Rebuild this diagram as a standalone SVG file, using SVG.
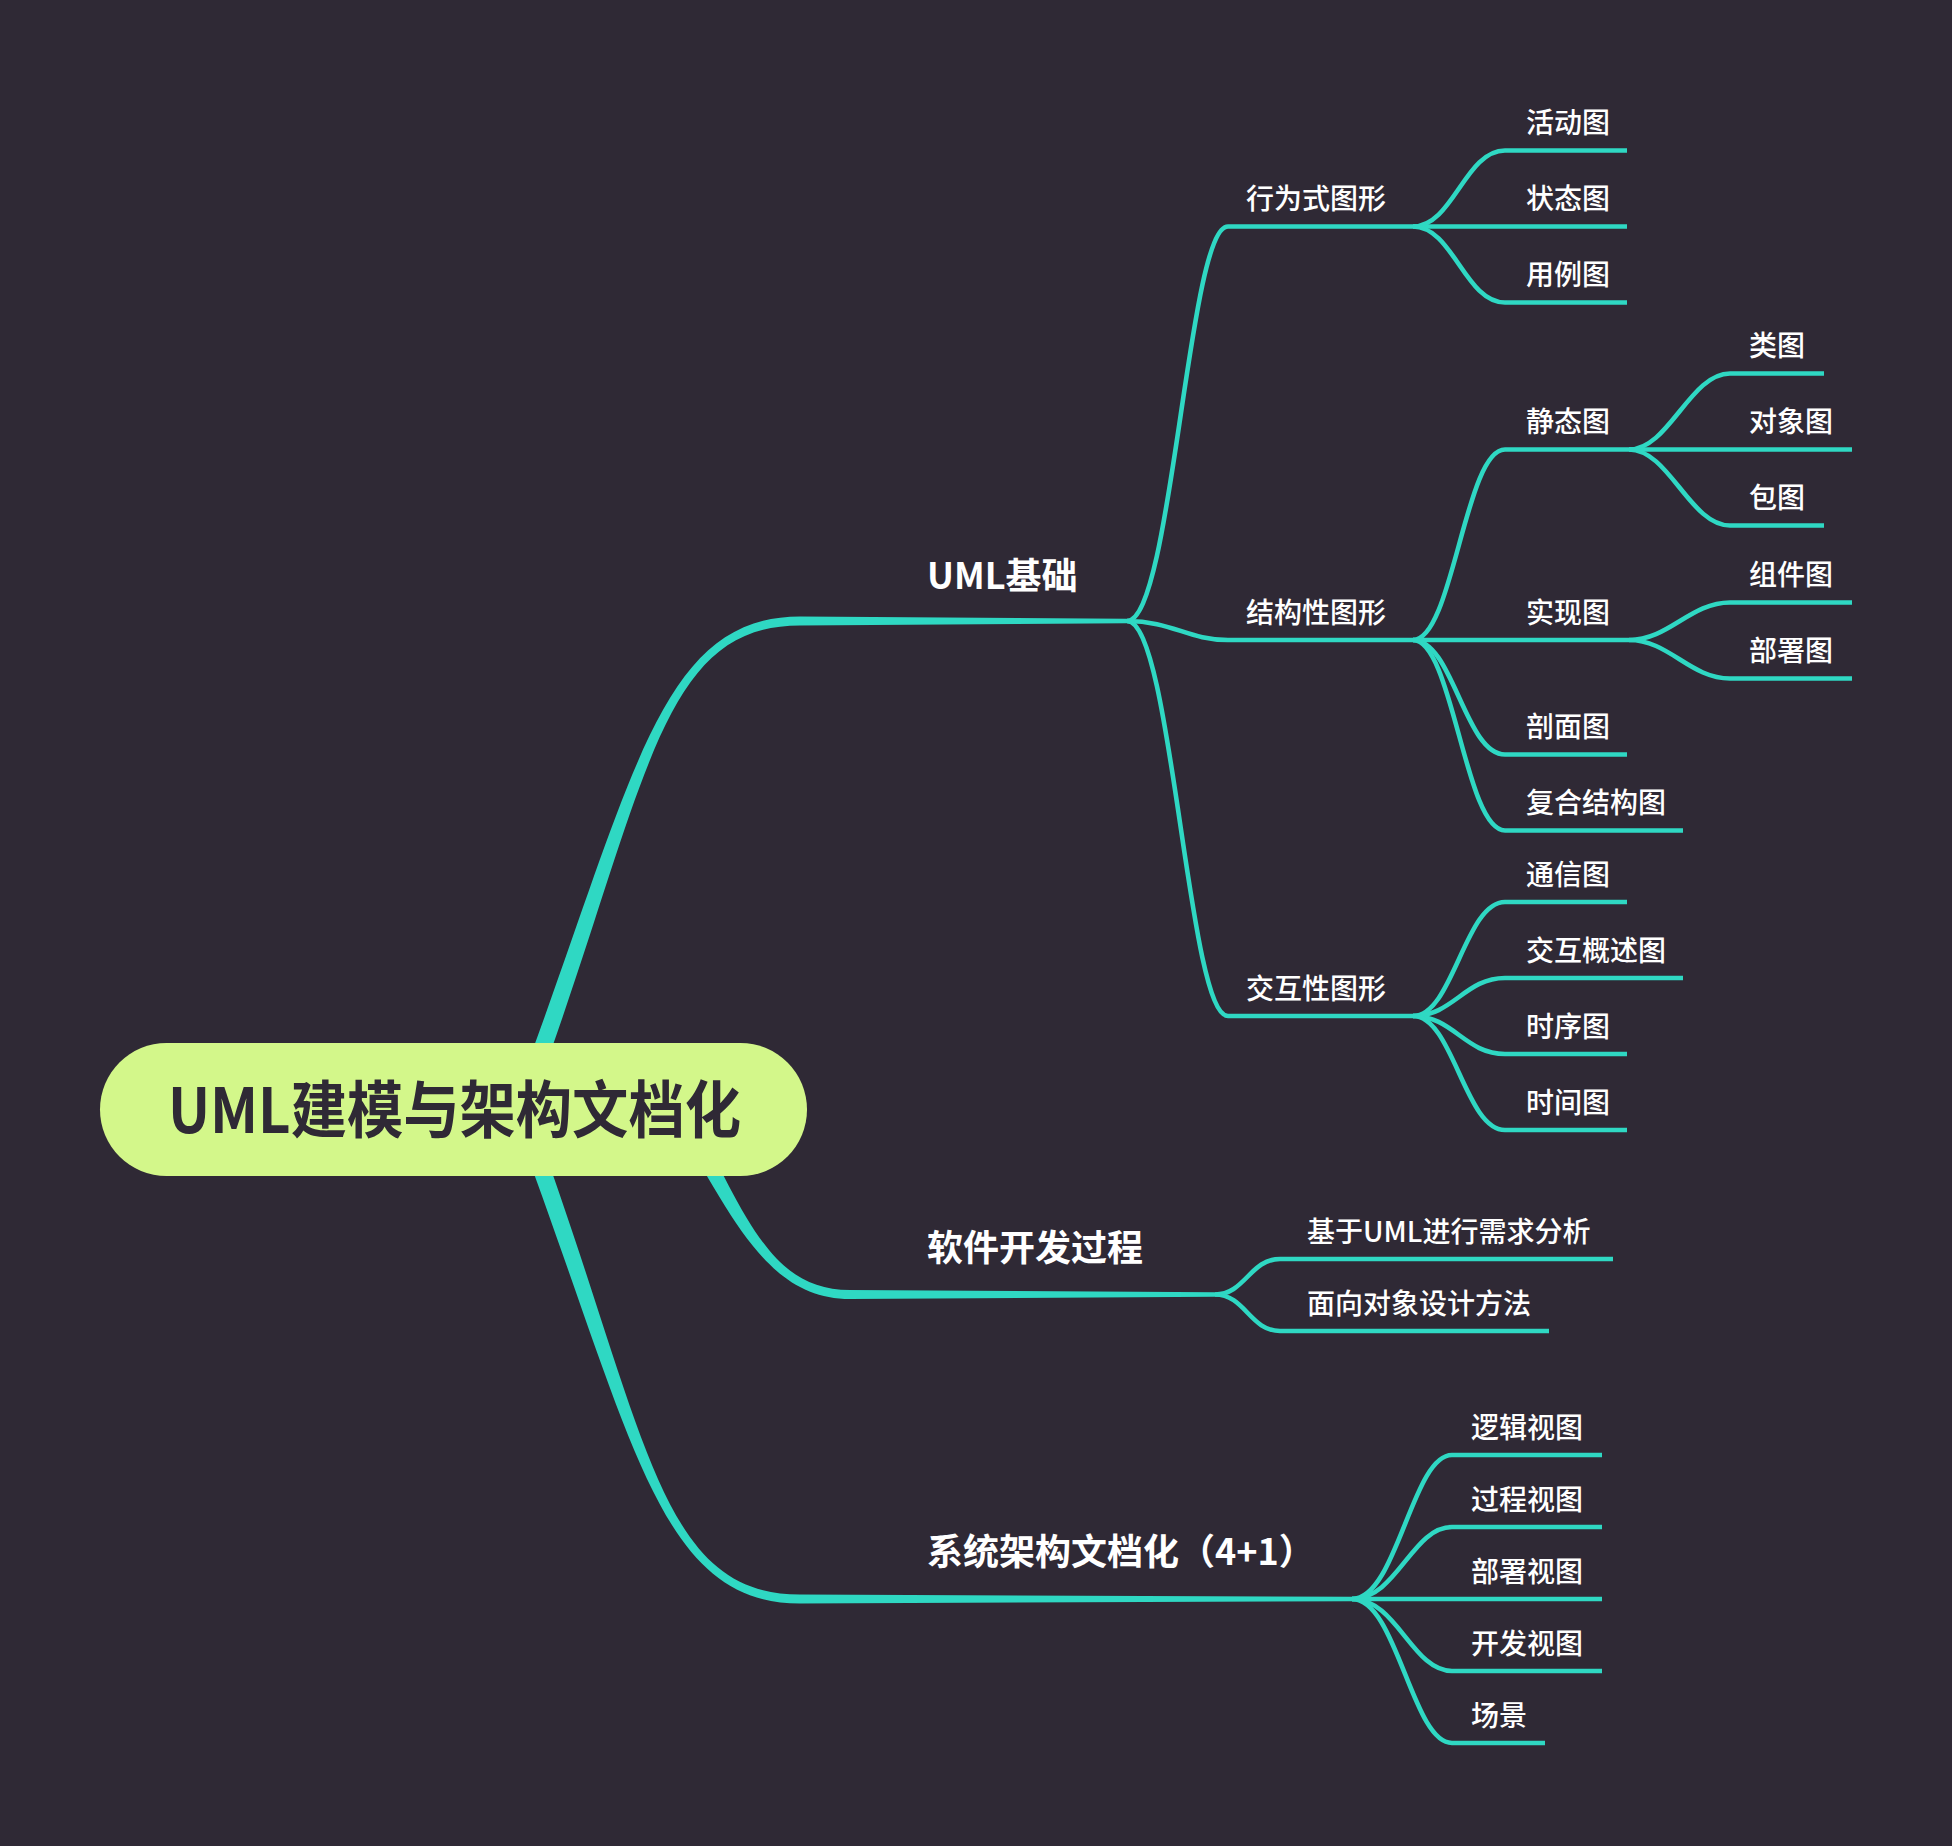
<svg xmlns="http://www.w3.org/2000/svg" width="1952" height="1846" viewBox="0 0 1952 1846">
<style>
.bg{fill:#2f2935}
.br{fill:#2fd8c3}
.c{fill:none;stroke:#2fd8c3;stroke-width:4.6;stroke-linecap:butt}
.t0{font-family:"Noto Sans CJK SC","Noto Sans",sans-serif;font-weight:700;font-size:62px;fill:#2f2935}
.t1{font-family:"Noto Sans CJK SC","Noto Sans",sans-serif;font-weight:700;font-size:36px;fill:#ffffff}
.t2{font-family:"Noto Sans CJK SC","Noto Sans",sans-serif;font-weight:500;font-size:28px;fill:#ffffff}
</style>
<rect class="bg" x="0" y="0" width="1952" height="1846"/>
<g id="connectors">
<path class="br" d="M511.6 1106.8 C632.5 787.2 655 616.5 800 616.5 L1127 618.75 L1127 623.25 L800 625.5 C655 625.5 647.5 792.8 528.4 1113.2 Z"/>
<path class="br" d="M687.9 1105.7 C746.1 1216.6 770 1290 850 1290 L1215 1292.25 L1215 1296.75 L850 1299 C770 1299 733.9 1223.4 672.1 1114.3 Z"/>
<path class="br" d="M511.6 1113.2 C632.5 1432.8 655 1603.5 800 1603.5 L1352 1601.25 L1352 1596.75 L800 1594.5 C655 1594.5 647.5 1427.2 528.4 1106.8 Z"/>
<path class="c" d="M1127 621 C1172 621 1188 226.5 1228 226.5 L1413 226.5"/>
<path class="c" d="M1127 621 C1172 621 1188 640 1228 640 L1413 640"/>
<path class="c" d="M1127 621 C1172 621 1188 1016 1228 1016 L1413 1016"/>
<path class="c" d="M1413 226.5 C1453 226.5 1465 150.5 1505 150.5 L1627 150.5"/>
<path class="c" d="M1413 226.5 L1627 226.5"/>
<path class="c" d="M1413 226.5 C1453 226.5 1465 302.5 1505 302.5 L1627 302.5"/>
<path class="c" d="M1413 640 C1453 640 1465 449.5 1505 449.5 L1629 449.5"/>
<path class="c" d="M1413 640 L1629 640"/>
<path class="c" d="M1413 640 C1453 640 1465 754.5 1505 754.5 L1627 754.5"/>
<path class="c" d="M1413 640 C1453 640 1465 830.5 1505 830.5 L1683 830.5"/>
<path class="c" d="M1413 1016 C1453 1016 1465 902 1505 902 L1627 902"/>
<path class="c" d="M1413 1016 C1453 1016 1465 978 1505 978 L1683 978"/>
<path class="c" d="M1413 1016 C1453 1016 1465 1054 1505 1054 L1627 1054"/>
<path class="c" d="M1413 1016 C1453 1016 1465 1130 1505 1130 L1627 1130"/>
<path class="c" d="M1629 449.5 C1669 449.5 1690 373.5 1730 373.5 L1824 373.5"/>
<path class="c" d="M1629 449.5 L1852 449.5"/>
<path class="c" d="M1629 449.5 C1669 449.5 1690 525.5 1730 525.5 L1824 525.5"/>
<path class="c" d="M1629 640 C1669 640 1690 602.5 1730 602.5 L1852 602.5"/>
<path class="c" d="M1629 640 C1669 640 1690 678.5 1730 678.5 L1852 678.5"/>
<path class="c" d="M1215 1294.5 C1245 1294.5 1250 1259 1280 1259 L1613 1259"/>
<path class="c" d="M1215 1294.5 C1245 1294.5 1250 1331 1280 1331 L1549 1331"/>
<path class="c" d="M1352 1599 C1397 1599 1412 1455 1452 1455 L1602 1455"/>
<path class="c" d="M1352 1599 C1397 1599 1412 1527 1452 1527 L1602 1527"/>
<path class="c" d="M1352 1599 L1602 1599"/>
<path class="c" d="M1352 1599 C1397 1599 1412 1671 1452 1671 L1602 1671"/>
<path class="c" d="M1352 1599 C1397 1599 1412 1743 1452 1743 L1545 1743"/>
</g>
<g id="root">
<rect x="100" y="1043" width="707" height="133" rx="66.5" ry="66.5" fill="#d3f78a"/>
<text class="t0" x="168" y="1133" textLength="573" lengthAdjust="spacingAndGlyphs">UML建模与架构文档化</text>
</g>
<g id="n-uml"><text class="t1" x="927" y="589">UML基础</text></g>
<g id="n-soft"><text class="t1" x="927" y="1261">软件开发过程</text></g>
<g id="n-sys"><text class="t1" x="927" y="1565">系统架构文档化（4+1）</text></g>
<g id="n-behav"><text class="t2" x="1246" y="209">行为式图形</text></g>
<g id="n-struct"><text class="t2" x="1246" y="622.6">结构性图形</text></g>
<g id="n-inter"><text class="t2" x="1246" y="998.6">交互性图形</text></g>
<g id="n-act"><text class="t2" x="1526" y="133">活动图</text></g>
<g id="n-state"><text class="t2" x="1526" y="209">状态图</text></g>
<g id="n-usecase"><text class="t2" x="1526" y="285">用例图</text></g>
<g id="n-static"><text class="t2" x="1526" y="432">静态图</text></g>
<g id="n-impl"><text class="t2" x="1526" y="622.6">实现图</text></g>
<g id="n-profile"><text class="t2" x="1526" y="737">剖面图</text></g>
<g id="n-composite"><text class="t2" x="1526" y="813">复合结构图</text></g>
<g id="n-comm"><text class="t2" x="1526" y="884.6">通信图</text></g>
<g id="n-overview"><text class="t2" x="1526" y="960.6">交互概述图</text></g>
<g id="n-seq"><text class="t2" x="1526" y="1036.6">时序图</text></g>
<g id="n-timing"><text class="t2" x="1526" y="1112.6">时间图</text></g>
<g id="n-class"><text class="t2" x="1749" y="356">类图</text></g>
<g id="n-object"><text class="t2" x="1749" y="432">对象图</text></g>
<g id="n-package"><text class="t2" x="1749" y="508">包图</text></g>
<g id="n-component"><text class="t2" x="1749" y="585">组件图</text></g>
<g id="n-deploy"><text class="t2" x="1749" y="661">部署图</text></g>
<g id="n-req"><text class="t2" x="1307" y="1241.6">基于UML进行需求分析</text></g>
<g id="n-oo"><text class="t2" x="1307" y="1313.6">面向对象设计方法</text></g>
<g id="n-logic"><text class="t2" x="1471" y="1437.6">逻辑视图</text></g>
<g id="n-process"><text class="t2" x="1471" y="1509.6">过程视图</text></g>
<g id="n-deployv"><text class="t2" x="1471" y="1581.6">部署视图</text></g>
<g id="n-dev"><text class="t2" x="1471" y="1653.6">开发视图</text></g>
<g id="n-scene"><text class="t2" x="1471" y="1725.6">场景</text></g>
</svg>
